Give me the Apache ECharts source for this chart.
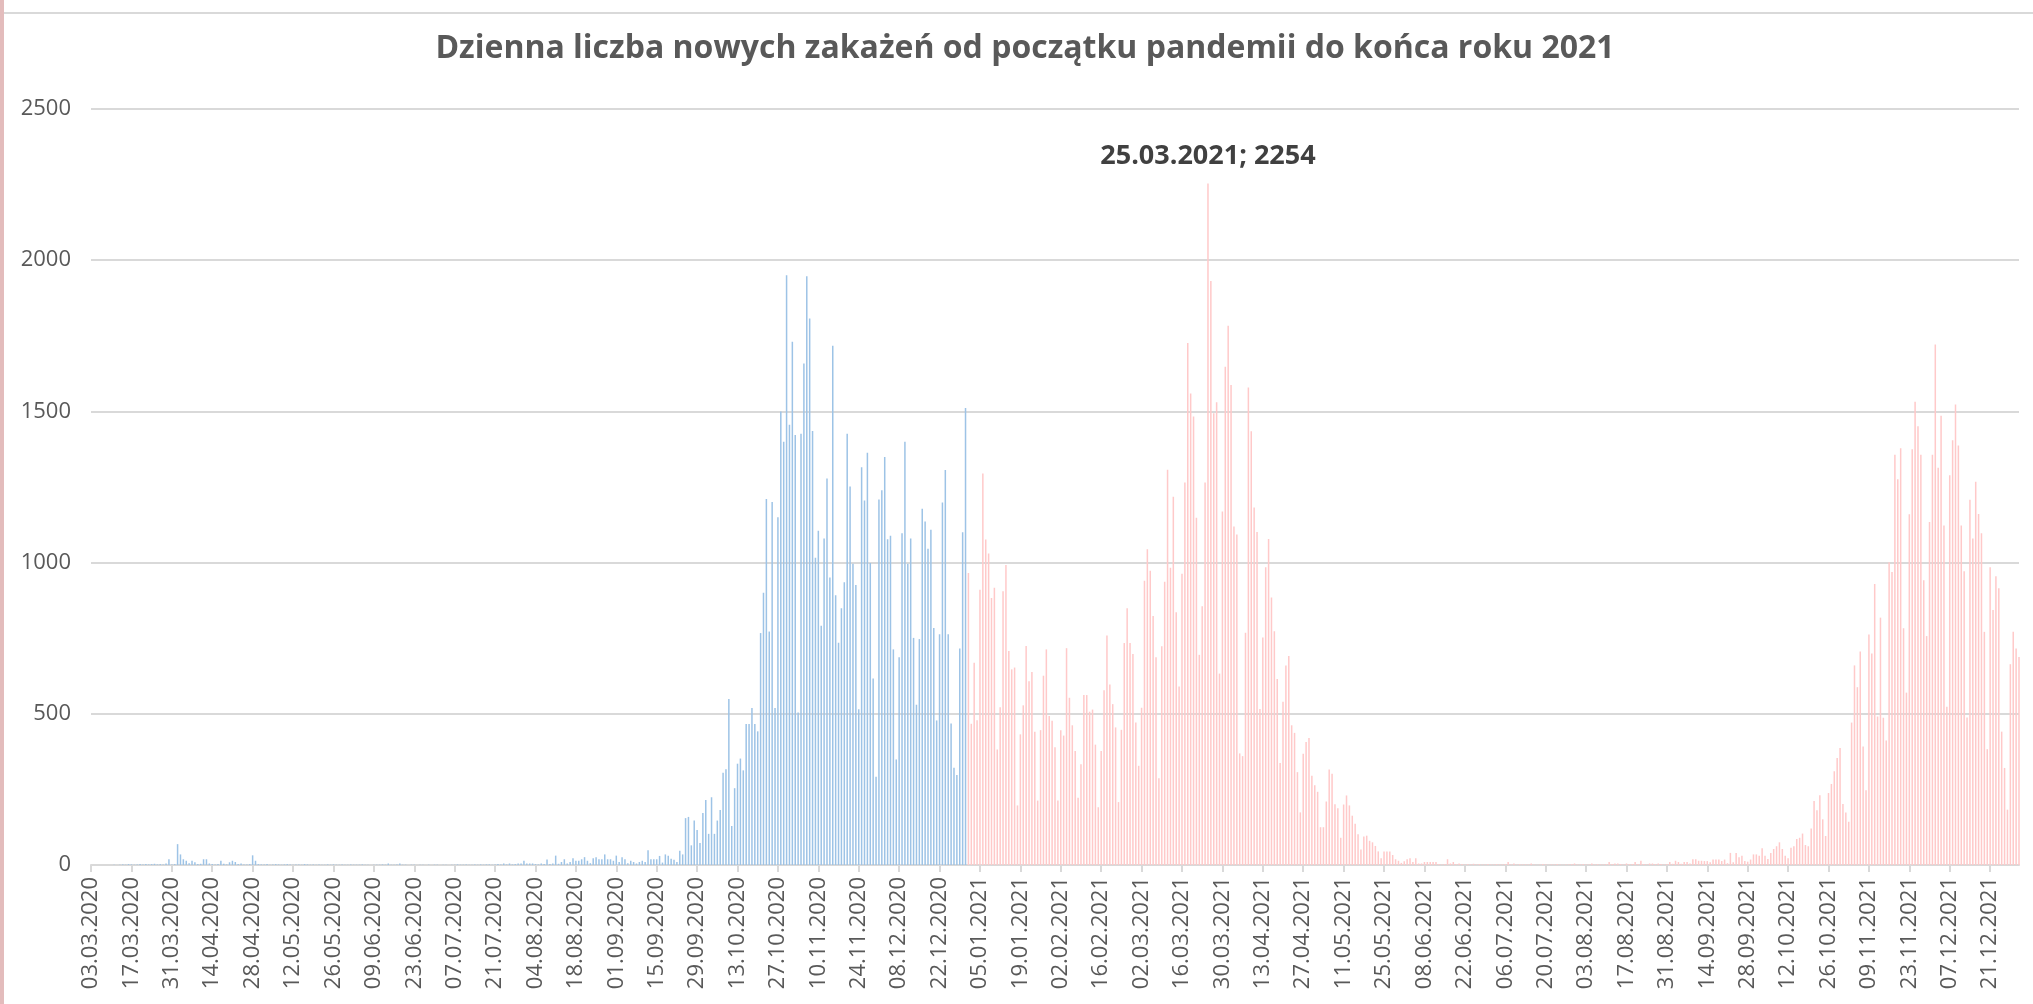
<!DOCTYPE html>
<html>
<head>
<meta charset="utf-8">
<title>Dzienna liczba nowych zakażeń</title>
<script src="https://cdn.jsdelivr.net/npm/echarts@6/dist/echarts.min.js"></script>
<style>
  html, body { margin: 0; padding: 0; background: #fff; }
  #chart { width: 2033px; height: 1004px; }
</style>
</head>
<body>
<div id="chart"></div>
<script>
// dzienne nowe zakażenia 03.03.2020 - 31.12.2020
const cases2020 = [
  0, 0, 0, 0, 0, 0, 0, 0, 1, 0,
  1, 2, 1, 3, 2, 1, 2, 3, 2, 3,
  2, 3, 4, 2, 3, 2, 5, 19, 2, 3,
  69, 35, 19, 14, 6, 14, 9, 3, 4, 19,
  19, 5, 3, 2, 3, 14, 4, 2, 9, 14,
  10, 3, 5, 2, 2, 3, 32, 14, 3, 2,
  2, 3, 1, 2, 3, 2, 1, 2, 3, 2,
  1, 2, 2, 1, 3, 2, 1, 2, 1, 2,
  1, 1, 2, 1, 2, 1, 1, 2, 1, 1,
  2, 1, 1, 1, 2, 1, 1, 0, 1, 1,
  1, 2, 1, 5, 1, 1, 2, 5, 1, 1,
  0, 1, 1, 0, 1, 1, 0, 1, 0, 1,
  1, 0, 1, 1, 0, 1, 1, 2, 1, 1,
  2, 1, 1, 2, 1, 2, 1, 2, 2, 1,
  2, 3, 2, 5, 2, 5, 2, 3, 5, 5,
  14, 5, 5, 5, 3, 2, 5, 3, 18, 3,
  5, 31, 4, 10, 19, 5, 10, 22, 14, 14,
  19, 26, 14, 6, 22, 26, 19, 19, 35, 19,
  19, 14, 31, 10, 26, 19, 6, 14, 10, 5,
  10, 14, 10, 49, 19, 19, 19, 30, 8, 35,
  31, 21, 17, 10, 47, 35, 155, 159, 65, 147,
  116, 73, 172, 215, 103, 224, 103, 147, 182, 305,
  317, 549, 129, 254, 335, 352, 313, 466, 466, 519,
  466, 442, 767, 900, 1210, 772, 1200, 519, 1150, 1500,
  1400, 1950, 1456, 1730, 1422, 504, 1426, 1658, 1947, 1807,
  1435, 1016, 1105, 791, 1080, 1278, 951, 1717, 892, 735,
  849, 935, 1426, 1252, 996, 926, 515, 1315, 1205, 1363,
  999, 617, 292, 1209, 1239, 1349, 1077, 1089, 713, 349,
  687, 1097, 1400, 996, 1080, 751, 530, 747, 1178, 1136,
  1046, 1109, 784, 478, 763, 1199, 1306, 763, 468, 322,
  298, 716, 1100, 1511
];

// dzienne nowe zakażenia 01.01.2021 - 31.12.2021
const cases2021 = [
  966, 467, 669, 479, 910, 1295, 1076, 1030, 883, 917,
  382, 522, 905, 992, 708, 647, 653, 197, 432, 528,
  724, 608, 638, 441, 213, 446, 626, 713, 493, 477,
  389, 213, 446, 428, 717, 553, 462, 377, 222, 333,
  562, 562, 507, 514, 398, 191, 377, 578, 759, 597,
  532, 455, 208, 447, 734, 849, 734, 698, 471, 328,
  520, 940, 1044, 973, 823, 687, 287, 723, 937, 1307,
  983, 1218, 836, 590, 963, 1265, 1726, 1559, 1483, 1148,
  695, 856, 1265, 2254, 1931, 1494, 1530, 633, 1169, 1648,
  1783, 1587, 1119, 1093, 369, 360, 768, 1579, 1434, 1182,
  1101, 516, 752, 985, 1078, 885, 773, 615, 337, 540,
  660, 691, 462, 437, 307, 174, 368, 407, 420, 295,
  264, 242, 125, 125, 210, 316, 302, 201, 188, 90,
  200, 230, 197, 163, 136, 102, 51, 94, 97, 80,
  75, 63, 45, 22, 45, 45, 45, 33, 19, 14,
  7, 12, 19, 22, 10, 22, 5, 5, 10, 10,
  10, 10, 10, 3, 2, 3, 19, 5, 10, 3,
  5, 3, 2, 3, 2, 4, 2, 3, 2, 2,
  3, 2, 2, 3, 2, 2, 3, 10, 2, 5,
  2, 3, 2, 2, 2, 5, 2, 1, 2, 3,
  2, 1, 2, 2, 3, 2, 1, 2, 2, 3,
  5, 2, 2, 3, 2, 2, 5, 2, 3, 2,
  2, 3, 10, 3, 5, 5, 3, 2, 5, 3,
  3, 10, 3, 14, 3, 2, 5, 5, 3, 5,
  3, 2, 3, 10, 4, 14, 10, 4, 10, 10,
  5, 19, 19, 14, 14, 13, 13, 9, 18, 18,
  18, 13, 18, 6, 40, 9, 40, 26, 31, 13,
  11, 18, 35, 35, 31, 55, 31, 20, 40, 53,
  62, 75, 53, 31, 22, 57, 62, 86, 90, 104,
  66, 62, 121, 212, 181, 231, 151, 96, 238, 268,
  310, 354, 387, 202, 174, 143, 471, 660, 588, 706,
  392, 247, 762, 699, 929, 491, 818, 487, 412, 1001,
  969, 1357, 1276, 1378, 783, 570, 1160, 1375, 1532, 1451,
  1357, 942, 757, 1134, 1357, 1721, 1314, 1486, 1123, 523,
  1289, 1405, 1523, 1387, 1123, 971, 488, 1208, 1080, 1267,
  1161, 1097, 771, 383, 985, 843, 955, 915, 441, 321,
  183, 664, 771, 716, 688
];

const peakDate = '25.03.2021';
const yMax = 2500;
const yStep = 500;

const BLUE = '#9dc3e6';
const PINK = '#ffc9c9';
const TEXT = '#595959';
const GRID = '#d9d9d9';

// etykiety dat dd.mm.rrrr, dzień po dniu od 03.03.2020
const pad = n => String(n).padStart(2, '0');
const values = cases2020.concat(cases2021);
const dates = values.map((v, i) => {
  const d = new Date(2020, 2, 3 + i);
  return pad(d.getDate()) + '.' + pad(d.getMonth() + 1) + '.' + d.getFullYear();
});

const barData = values.map((v, i) => {
  const item = {
    value: v,
    itemStyle: { color: i < cases2020.length ? BLUE : PINK }
  };
  if (dates[i] === peakDate) {
    item.label = {
      show: true,
      position: 'top',
      distance: 14,
      formatter: '{b}; {c}',
      fontFamily: 'Open Sans',
      fontWeight: 'bold',
      fontSize: 27,
      color: '#404040'
    };
  }
  return item;
});

const chart = echarts.init(document.getElementById('chart'), null, { renderer: 'canvas' });

chart.setOption({
  animation: false,
  backgroundColor: '#ffffff',
  title: {
    text: 'Dzienna liczba nowych zakażeń od początku pandemii do końca roku 2021',
    left: 1025,
    top: 33,
    textAlign: 'center',
    padding: 0,
    textStyle: {
      fontFamily: 'Open Sans',
      fontWeight: 'bold',
      fontSize: 32,
      color: TEXT
    }
  },
  grid: {
    left: 91,
    right: 14,
    top: 109,
    bottom: 139,
    containLabel: false
  },
  xAxis: {
    type: 'category',
    data: dates,
    boundaryGap: false,
    axisLine: { lineStyle: { color: GRID, width: 2 } },
    axisTick: { show: true, interval: 13, length: 7, lineStyle: { color: GRID, width: 2 } },
    axisLabel: {
      interval: 13,
      rotate: 90,
      margin: 12,
      fontFamily: 'Open Sans',
      fontSize: 22,
      color: TEXT
    },
    splitLine: { show: false }
  },
  yAxis: {
    type: 'value',
    min: 0,
    max: yMax,
    interval: yStep,
    axisLine: { show: false },
    axisTick: { show: false },
    axisLabel: {
      margin: 20,
      fontFamily: 'Open Sans',
      fontSize: 22,
      color: TEXT,
      formatter: v => String(v)
    },
    splitLine: { lineStyle: { color: GRID, width: 2 } }
  },
  graphic: [
    // ramka wykresu: szara linia u góry i różowa z lewej
    { type: 'rect', shape: { x: 4, y: 12, width: 2029, height: 2 }, style: { fill: GRID }, silent: true },
    { type: 'rect', shape: { x: 0, y: 0, width: 4, height: 1004 }, style: { fill: '#e3bcbc' }, silent: true }
  ],
  series: [{
    type: 'bar',
    data: barData,
    barWidth: '52%',
    barCategoryGap: '48%'
  }]
});

window.addEventListener('resize', () => chart.resize());
</script>
</body>
</html>
